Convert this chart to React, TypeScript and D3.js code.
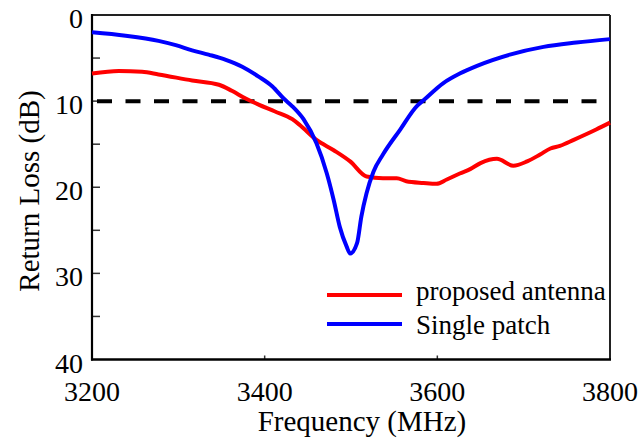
import React, { useEffect, useRef } from 'react';
import * as d3 from 'd3';

// Single patch (blue)
const patchFreq = [3200, 3239, 3277, 3297, 3316, 3335, 3355, 3374, 3393, 3409, 3422, 3432, 3445, 3460, 3472, 3480, 3487, 3495, 3499, 3507, 3512, 3518, 3526, 3537, 3557, 3576, 3584, 3607, 3626, 3646, 3684, 3723, 3761, 3800];
const patchLoss = [2.0, 2.4, 3.0, 3.5, 4.1, 4.6, 5.2, 6.0, 7.15, 8.3, 9.7, 10.6, 12.1, 14.9, 18.4, 21.5, 24.6, 26.9, 27.7, 26.5, 23.4, 20.7, 18.2, 16.2, 13.3, 10.6, 9.9, 7.9, 6.8, 5.9, 4.6, 3.7, 3.2, 2.8];

// proposed antenna (red)
const propFreq = [3200, 3231, 3258, 3277, 3316, 3347, 3362, 3378, 3393, 3412, 3432, 3441, 3460, 3480, 3499, 3518, 3537, 3553, 3564, 3584, 3599, 3611, 3626, 3638, 3650, 3669, 3688, 3704, 3719, 3731, 3742, 3758, 3784, 3800];
const propLoss = [6.8, 6.5, 6.6, 6.9, 7.6, 8.1, 8.8, 9.7, 10.4, 11.2, 12.1, 12.8, 14.5, 15.7, 17.0, 18.75, 18.95, 18.95, 19.3, 19.5, 19.6, 19.1, 18.4, 17.9, 17.2, 16.7, 17.5, 17.0, 16.2, 15.5, 15.2, 14.5, 13.3, 12.5];

const xTicks = [3200, 3400, 3600, 3800];
const yTicks = [0, 5, 10, 15, 20, 25, 30, 35, 40];
const threshold = 10;

const seriesNames = ['proposed antenna', 'Single patch'];
const seriesColors = ['#ff0000', '#0000ff'];

export default function App() {
    const svgRef = useRef<SVGSVGElement>(null);

    useEffect(() => {
        const svg = d3.select(svgRef.current);
        svg.selectAll('*').remove();

        const width = 642;
        const height = 441;
        const margin = { top: 15, right: 32, bottom: 81.5, left: 92 };
        const innerW = width - margin.left - margin.right;
        const innerH = height - margin.top - margin.bottom;
        const font = '"Liberation Serif", "DejaVu Serif", serif';

        const x = d3.scaleLinear().domain([3200, 3800]).range([margin.left, margin.left + innerW]);
        const y = d3.scaleLinear().domain([0, 40]).range([margin.top, margin.top + innerH]);

        // frame: top/right thin, left/bottom black
        svg.append('line')
            .attr('x1', x(3200)).attr('x2', x(3800))
            .attr('y1', y(0)).attr('y2', y(0))
            .attr('stroke', '#222').attr('stroke-width', 2);
        svg.append('line')
            .attr('x1', x(3800)).attr('x2', x(3800))
            .attr('y1', y(0)).attr('y2', y(40))
            .attr('stroke', '#222').attr('stroke-width', 2);

        // y ticks (inward)
        svg.append('g')
            .selectAll('line')
            .data(yTicks.filter((d) => d > 0 && d < 40))
            .join('line')
            .attr('x1', x(3200)).attr('x2', x(3200) + 8)
            .attr('y1', (d) => y(d)).attr('y2', (d) => y(d))
            .attr('stroke', '#333').attr('stroke-width', 1.5);

        // x ticks (inward)
        svg.append('g')
            .selectAll('line')
            .data(xTicks.filter((d) => d > 3200 && d < 3800))
            .join('line')
            .attr('x1', (d) => x(d)).attr('x2', (d) => x(d))
            .attr('y1', y(40)).attr('y2', y(40) - 4)
            .attr('stroke', '#333').attr('stroke-width', 1.5);

        svg.append('line')
            .attr('x1', x(3200)).attr('x2', x(3200))
            .attr('y1', y(0) - 1).attr('y2', y(40) + 1)
            .attr('stroke', '#000').attr('stroke-width', 2.2);
        svg.append('line')
            .attr('x1', x(3200) - 1).attr('x2', x(3800) + 1)
            .attr('y1', y(40)).attr('y2', y(40))
            .attr('stroke', '#000').attr('stroke-width', 2.4);

        // tick labels
        svg.append('g')
            .selectAll('text')
            .data(yTicks.filter((d) => d % 10 === 0))
            .join('text')
            .attr('x', 83)
            .attr('y', (d) => y(d) + 13)
            .attr('text-anchor', 'end')
            .style('font-family', font)
            .style('font-size', '28px')
            .text((d) => d);

        svg.append('g')
            .selectAll('text')
            .data(xTicks)
            .join('text')
            .attr('x', (d) => x(d))
            .attr('y', 401)
            .attr('text-anchor', 'middle')
            .style('font-family', font)
            .style('font-size', '28px')
            .text((d) => d);

        // -10 dB reference
        svg.append('line')
            .attr('x1', x(3200) + 5).attr('x2', x(3800) - 13)
            .attr('y1', y(threshold)).attr('y2', y(threshold))
            .attr('stroke', '#000').attr('stroke-width', 4)
            .attr('stroke-dasharray', '15 13.5');

        // curves
        const line = d3.line<[number, number]>()
            .x((d) => x(d[0]))
            .y((d) => y(d[1]))
            .curve(d3.curveMonotoneX);

        const series = [
            propFreq.map((f, i) => [f, propLoss[i]] as [number, number]),
            patchFreq.map((f, i) => [f, patchLoss[i]] as [number, number]),
        ];

        series.forEach((pts, i) => {
            svg.append('path')
                .attr('d', line(pts))
                .attr('fill', 'none')
                .attr('stroke', seriesColors[i])
                .attr('stroke-width', 4)
                .attr('stroke-linejoin', 'round');
        });

        // legend
        const legend = svg.append('g');
        const legendY = [295, 324];
        const textY = [300, 334];
        seriesNames.forEach((name, i) => {
            legend.append('line')
                .attr('x1', 327).attr('x2', 402)
                .attr('y1', legendY[i]).attr('y2', legendY[i])
                .attr('stroke', seriesColors[i]).attr('stroke-width', 4);
            legend.append('text')
                .attr('x', 416).attr('y', textY[i])
                .style('font-family', font)
                .style('font-size', '27px')
                .text(name);
        });

        // axis titles
        svg.append('text')
            .attr('x', 362)
            .attr('y', 431)
            .attr('text-anchor', 'middle')
            .style('font-family', font)
            .style('font-size', '29px')
            .text('Frequency (MHz)');

        svg.append('text')
            .attr('transform', 'translate(39,191) rotate(-90)')
            .attr('text-anchor', 'middle')
            .style('font-family', font)
            .style('font-size', '29px')
            .text('Return Loss (dB)');
    }, []);

    return (
        <svg
            ref={svgRef}
            width={642}
            height={441}
            style={{ position: 'absolute', left: 0, top: 0, background: '#fff' }}
        />
    );
}
